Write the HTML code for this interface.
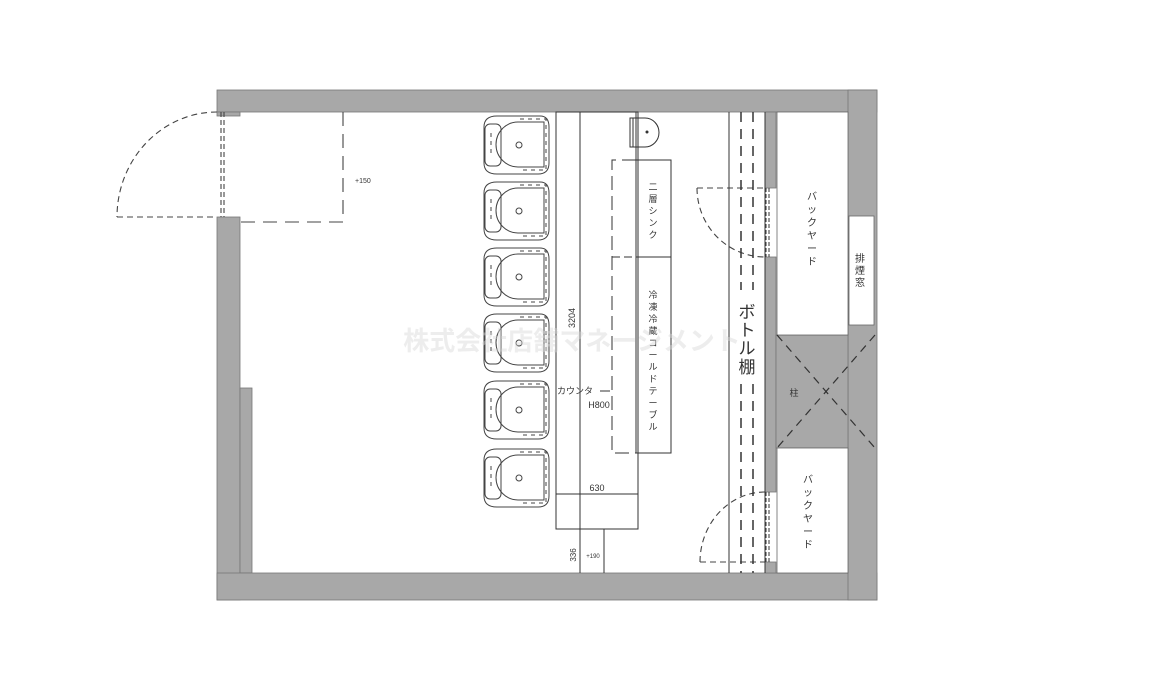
<!DOCTYPE html>
<html><head><meta charset="utf-8"><style>
body{margin:0;background:#fff;}
svg{display:block}
text{font-family:"Liberation Sans","Noto Sans CJK JP",sans-serif;fill:#333;}
</style></head><body>
<svg width="1157" height="691" viewBox="0 0 1157 691" xmlns="http://www.w3.org/2000/svg">
<g fill="#a8a8a8" stroke="#777" stroke-width="0.8">
<rect x="217" y="90" width="660" height="22"/>
<rect x="217" y="217" width="23" height="383"/>
<rect x="217" y="112" width="23" height="4"/>
<rect x="240" y="388" width="12" height="185"/>
<rect x="217" y="573" width="660" height="27"/>
<rect x="848" y="90" width="29" height="510"/>
<rect x="765" y="112" width="11" height="76"/>
<rect x="765" y="257" width="11" height="235"/>
<rect x="765" y="562" width="11" height="11"/>
<rect x="776" y="335" width="72" height="113"/>
</g>
<rect x="777" y="112" width="71" height="223" fill="#fff" stroke="#666" stroke-width="0.8"/>
<rect x="777" y="448" width="71" height="125" fill="#fff" stroke="#666" stroke-width="0.8"/>
<rect x="849" y="216" width="25" height="109" fill="#fff" stroke="#666" stroke-width="0.8"/>
<g stroke="#333" stroke-width="1.2" stroke-dasharray="8,6" fill="none">
<line x1="777" y1="335" x2="875" y2="448"/>
<line x1="875" y1="335" x2="777" y2="448"/>
</g>
<text x="794" y="396" font-size="9" text-anchor="middle">柱</text>
<g font-size="10" text-anchor="middle">
<text x="860" y="262">排</text><text x="860" y="274">煙</text><text x="860" y="286">窓</text>
</g>
<g font-size="10" text-anchor="middle">
<text x="812" y="200">バ</text><text x="812" y="213">ッ</text><text x="812" y="226">ク</text><text x="812" y="239">ヤ</text><text x="812" y="252">ー</text><text x="812" y="265">ド</text>
<text x="808" y="483">バ</text><text x="808" y="496">ッ</text><text x="808" y="509">ク</text><text x="808" y="522">ヤ</text><text x="808" y="535">ー</text><text x="808" y="548">ド</text>
</g>
<g stroke="#444" stroke-width="1.1" fill="none" stroke-dasharray="6,4">
<path d="M217 112 A100 105 0 0 0 117 217"/>
<line x1="117" y1="217" x2="217" y2="217"/>
<line x1="221" y1="112" x2="221" y2="217" stroke-dasharray="5,3"/>
<line x1="224" y1="112" x2="224" y2="217" stroke-dasharray="5,3"/>
<path d="M343 112 V222 H240" stroke-dasharray="14,8"/>
</g>
<text x="355" y="183" font-size="7">+150</text>
<g stroke="#444" stroke-width="1.1" fill="none" stroke-dasharray="6,4">
<line x1="697" y1="188" x2="765" y2="188"/>
<path d="M697 188 A68 69 0 0 0 765 257"/>
<line x1="700" y1="562" x2="765" y2="562"/>
<path d="M700 562 A65 70 0 0 1 765 492"/>
<line x1="766" y1="188" x2="766" y2="257" stroke-dasharray="4,2"/>
<line x1="769" y1="188" x2="769" y2="257" stroke-dasharray="4,2"/>
<line x1="766" y1="492" x2="766" y2="562" stroke-dasharray="4,2"/>
<line x1="769" y1="492" x2="769" y2="562" stroke-dasharray="4,2"/>
</g>
<g stroke="#333" stroke-width="1" fill="none">
<line x1="729" y1="112" x2="729" y2="573"/>
<line x1="765" y1="112" x2="765" y2="573"/>
<line x1="741" y1="112" x2="741" y2="573" stroke-dasharray="10,7" stroke-width="1.5"/>
<line x1="753" y1="112" x2="753" y2="573" stroke-dasharray="10,7" stroke-width="1.5"/>
</g>
<rect x="736" y="290" width="22" height="90" fill="#fff"/>
<g font-size="17" text-anchor="middle" fill="#222">
<text x="747" y="318">ボ</text><text x="747" y="336">ト</text><text x="747" y="354">ル</text><text x="747" y="373">棚</text>
</g>
<g stroke="#333" stroke-width="1" fill="none">
<rect x="556" y="112" width="82" height="417"/>
<line x1="580" y1="112" x2="580" y2="573"/>
<line x1="636" y1="112" x2="636" y2="257"/>
<line x1="556" y1="494" x2="638" y2="494"/>
<line x1="604" y1="529" x2="604" y2="573"/>
<rect x="636" y="160" width="35" height="293"/>
<line x1="636" y1="257" x2="671" y2="257"/>
<path d="M636 160 H612 V453 H636" stroke-dasharray="14,6"/>
<line x1="612" y1="257" x2="636" y2="257" stroke-dasharray="8,4"/>
<rect x="630" y="118" width="3" height="29"/>
<path d="M633 118 H645 A14 14.5 0 0 1 645 147 H633"/>
</g>
<circle cx="647" cy="132" r="1.5" fill="#333"/>
<g font-size="9" text-anchor="middle">
<text x="653" y="190">二</text><text x="653" y="202">層</text><text x="653" y="214">シ</text><text x="653" y="226">ン</text><text x="653" y="238">ク</text>
<text x="653" y="298">冷</text><text x="653" y="310">凍</text><text x="653" y="322">冷</text><text x="653" y="334">蔵</text><text x="653" y="346">コ</text><text x="653" y="358">ー</text><text x="653" y="370">ル</text><text x="653" y="382">ド</text><text x="653" y="394">テ</text><text x="653" y="406">ー</text><text x="653" y="418">ブ</text><text x="653" y="430">ル</text>
</g>
<text x="575" y="394" font-size="9" text-anchor="middle">カウンタ</text>
<line x1="600" y1="391" x2="610" y2="391" stroke="#333"/>
<text x="599" y="408" font-size="9" text-anchor="middle">H800</text>
<text x="597" y="491" font-size="9" text-anchor="middle">630</text>
<text transform="translate(575,318) rotate(-90)" font-size="9" text-anchor="middle">3204</text>
<text transform="translate(576,555) rotate(-90)" font-size="8" text-anchor="middle">336</text>
<text x="593" y="558" font-size="6" text-anchor="middle">+190</text>
<defs>
<g id="st" stroke="#444" stroke-width="1" fill="none">
<path d="M497 -29 H540 Q549 -29 549 -18 V18 Q549 29 538 29 H497 Q484 29 484 18 V-18 Q484 -29 497 -29 Z"/>
<rect x="485" y="-21" width="16" height="42" rx="5"/>
<path d="M518 -23 H544 V22 H518 A22 22.5 0 0 1 518 -23 Z"/>
<path d="M520 -26 H546 V25 H520" stroke-dasharray="4,4"/>
<line x1="491" y1="-12" x2="491" y2="12" stroke-dasharray="4,4"/>
<circle cx="519" cy="0" r="3"/>
</g>
</defs>
<use href="#st" y="145"/><use href="#st" y="211"/><use href="#st" y="277"/>
<use href="#st" y="343"/><use href="#st" y="410"/><use href="#st" y="478"/>
<text x="572" y="350" font-size="26" font-weight="bold" text-anchor="middle" style="fill:#d8d8d8;opacity:0.45">株式会社店舗マネージメント</text>
</svg>
</body></html>
